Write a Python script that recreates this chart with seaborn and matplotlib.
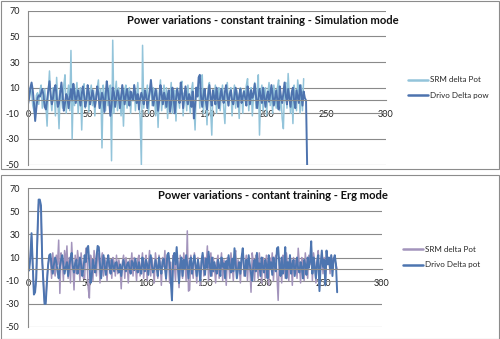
import numpy as np
import pandas as pd
import matplotlib
matplotlib.use("Agg")
import matplotlib.pyplot as plt
from matplotlib.patches import Rectangle
import seaborn as sns

# ---------------- data ----------------
sim_titles = "Power variations - constant training - Simulation mode"
erg_titles = "Power variations - contant training - Erg mode"

sim_labels = ["SRM delta Pot", "Drivo Delta pow"]
erg_labels = ["SRM delta Pot", "Drivo Delta pot"]

x_ticks = [0, 50, 100, 150, 200, 250, 300]
y_ticks = [-50, -30, -10, 10, 30, 50, 70]

sim_srm = [
    -2, 3, 10, 6, -4, -8, -12, 4, 6, -3, 8, 12, -6, 2, 9, -4, -20, 6, 23, 2,
    -8, 10, 4, -12, 18, 0, -22, 8, 2, -6, 12, 20, -10, 4, 12, -8, 39, -30, 13, -4,
    6, 14, -10, 2, 10, -23, 8, 13, -6, 3, 10, -9, 6, 12, -4, 8, -12, 4, 10, 16,
    -6, 9, -37, 12, 4, -8, 14, -4, 8, 12, -47, 47, -10, 6, 15, -8, 10, 2, -12, 6,
    -20, 8, 12, -6, 4, 10, -10, 6, 2, 12, -8, 4, 14, -2, -14, -50, 43, -6, 8, 2,
    12, -10, 6, 14, -4, 10, 2, -12, 8, -21, 6, 16, -8, 4, 12, -6, 10, -14, 6, 2,
    14, -10, 4, 8, -16, 10, 2, -6, 12, 15, -12, 6, 4, -8, 12, 0, -10, 8, 14, -4,
    -23, 10, 4, 12, -6, 16, 20, -10, 8, 2, -19, 10, 14, -6, -27, 8, 2, 12, -10, 6,
    10, -8, 4, 12, -6, -18, 8, 14, -4, 6, 10, -12, 4, 12, -6, 8, 2, -14, 10, 6,
    -10, 8, 4, 12, 17, -8, 6, 10, -12, 4, 14, -6, 8, 20, -27, 6, 12, -8, 4, 10,
    -12, 6, 14, -4, 8, -10, 12, 4, -6, 10, 16, -8, 4, -14, -22, 10, 14, -6, 21, 4,
    -10, 8, -18, 12, 4, -8, 16, 6, -10, 12, -8, 17,
]

sim_drivo = [
    -3, 2, 10, 14, 8, -2, -16, -6, 2, 4, 3, 6, 9, 4, -5, -7, 0, 8, 15, 5,
    -3, 2, 9, 12, 3, -5, -2, 6, 14, 4, -8, -2, 5, 3, -6, 2, 9, 0, 13, 6,
    -2, 3, 8, 2, -4, 5, 11, 4, -5, 0, 12, 6, -3, 2, 8, 3, -5, 1, 11, 5,
    -6, 0, 6, 2, -9, 3, 15, 8, 0, -12, -4, 10, 6, -5, 2, 8, 4, -6, 3, 12,
    5, -3, 4, 9, 2, -4, 7, 3, 0, 12, 5, -2, 5, -7, 2, 6, 2, -3, 8, 4,
    -6, 1, 7, 16, 6, -4, 3, 9, 2, -8, 0, 12, 5, -3, 6, 2, -5, 4, 8, -9,
    -2, 10, 3, -10, 1, 9, 4, -2, 14, 6, -6, 3, 11, 2, -3, 5, 2, -5, 7, -14,
    -4, 10, 3, 18, 20, 3, -5, 4, 9, 0, -7, 5, 12, 2, -4, 8, 3, -3, 10, 2,
    -6, 3, 9, 2, -2, 7, 12, 3, -4, 5, 8, 0, -3, 3, 10, 4, -5, 4, 9, -2,
    3, 7, 2, -4, 11, 5, -3, 8, 2, 5, 13, 4, -6, 1, 9, 3, -2, 10, 2, -5,
    3, 7, -1, 5, 12, 4, -4, 2, 8, 0, -7, 11, 3, -2, 6, 14, 4, -3, 9, 2,
    -5, 6, 10, 0, -6, 8, 3, -2, 12, 5, -4, 7, 2, 0, -55,
]

erg_srm = [
    0, 2, 12, 28, 2, -20, -18, -6, 26, 56, 57, 50, 6, -8, -28, -28, -10, 4, 10, 8,
    -8, 14, 0, -6, 12, 4, 25, -21, 14, 8, -10, 16, 4, 20, -8, 10, -12, 23, 2, -18,
    12, -4, 16, 6, -10, 14, 2, -8, -8, 18, 10, -16, -25, 12, 6, -10, 16, 4, -6, 14,
    10, -12, 8, 14, -6, 10, 4, -10, 12, 2, 8, -8, 10, 6, -6, 12, -4, 8, 2, -17,
    6, 12, -8, 10, 4, -12, 8, 2, 14, -6, 10, 4, -10, 8, 12, -6, 4, 14, -8, 6,
    12, -10, 4, 16, -6, 10, 2, -12, 14, 4, -8, 12, 6, -14, 10, 2, 16, -10, 8, 12,
    -12, 6, -20, 12, 4, -10, 14, 6, -16, 12, 2, -8, 14, 4, -10, 33, -19, -18, 12, 2,
    -8, 14, 4, -12, 10, 2, -14, 8, 12, -6, 10, 4, 20, -10, 8, 14, -6, 10, 2, -12,
    6, 12, -8, 4, 14, -10, 8, 2, -14, 10, 6, -8, 14, 4, -10, 12, 16, -6, 8, 2,
    -12, 10, 14, -6, 4, 12, -10, 8, 2, -20, 14, 6, -10, 12, 4, -8, 14, 2, -12, 10,
    6, -8, 12, 4, -14, 10, 2, 14, -10, 8, 12, -6, -27, 10, 4, -12, 12, 6, -8, 14,
    4, -10, 12, 6, -14, 10, 2, 8, -8, 18, 4, -12, 10, 6, -10, 14, 2, -8, 12, 4,
    20, -10, 14, 6, -12, 8, 16, -16, 4, 14, -4, 10, -10, 12, 6, 10, -4, 12, 2, 10,
    8, 4, 0,
]

erg_drivo = [
    -2, -1, 10, 31, 5, -22, -20, -8, 30, 60, 60, 55, 10, -12, -30, -30, -12, 3, 12, 13,
    3, -4, 4, 10, 6, -2, -8, 2, 8, 12, 4, -4, 2, 6, -6, 3, 9, 14, 2, -3,
    5, 8, -4, 2, 10, 4, -6, 0, 12, 6, 18, 20, 4, -12, -6, 8, 2, -3, 10, 20,
    19, 4, -8, 4, 12, 2, -5, 6, 12, 2, -4, 8, 3, -2, 5, 6, 0, -3, 4, -6,
    3, 8, 2, -2, 4, 6, 0, -4, 7, 5, -1, 9, 2, -3, 6, 0, -4, 10, 3, -2,
    8, 4, -5, 6, 12, 3, -3, 0, 8, 2, -6, 10, 2, -4, 6, 9, 1, -8, 12, 14,
    5, -10, -27, 8, 14, 4, 19, 2, -12, 4, 10, -6, 8, 0, 12, 3, -8, 6, 10, -4,
    5, 12, 3, -6, 8, 0, -10, 6, 14, 2, -5, 9, 1, 15, 4, -6, 10, -2, 6, 0,
    -4, 8, 3, -6, 10, 2, 5, -8, 7, 0, 12, 3, -3, 9, -2, 18, 4, -8, 0, 6,
    -4, 10, 18, 2, -6, 8, 0, 12, 4, -4, -10, 4, 8, -2, 14, 0, 5, -6, 10, 2,
    -3, 8, 4, -8, 12, 0, 6, -5, 10, 3, -2, 18, 19, 4, -6, 10, -4, 2, 19, -8,
    6, 0, 12, -4, 4, 8, -6, 2, 10, 0, -3, 6, 2, -8, 8, 4, -5, 10, 1, 6,
    24, -4, 10, 2, -8, 6, 12, -19, 3, 16, 2, 8, -14, 16, 4, 10, 0, 12, -6, 8,
    12, 4, -20,
]

# ---------------- style ----------------
sns.set_theme(style="white")
plt.rcParams["font.family"] = ["Lato", "DejaVu Sans"]

C_LIGHT = "#93C4DA"
C_DARK = "#4D73AE"
C_LAV = "#A394BC"
C_DARK2 = "#4D75B0"
GRID = "#8A8A8A"

W, H = 500, 339
fig = plt.figure(figsize=(W / 100, H / 100), dpi=100)
fig.patch.set_facecolor("white")

# chart frames
for (y0, y1) in [(0.5, 168.5), (174.5, 338.5)]:
    fig.add_artist(Rectangle((0.5 / W, 1 - y1 / H), 498.5 / W, (y1 - y0) / H,
                             transform=fig.transFigure, fill=False,
                             ec="#8C8C8C", lw=0.8))


def style_axes(ax):
    ax.set_xlim(0, 300)
    ax.set_ylim(-50, 70)
    ax.set_xticks(x_ticks)
    ax.set_yticks(y_ticks)
    ax.set_xticklabels([str(v) for v in x_ticks])
    ax.set_yticklabels([str(v) for v in y_ticks])
    ax.set_axisbelow(True)
    ax.yaxis.grid(True, color=GRID, lw=0.8)
    ax.xaxis.grid(False)
    for s in ["top", "right"]:
        ax.spines[s].set_visible(False)
    ax.spines["left"].set_color(GRID)
    ax.spines["left"].set_linewidth(0.8)
    ax.spines["bottom"].set_position(("data", 0))
    ax.spines["bottom"].set_color(GRID)
    ax.spines["bottom"].set_linewidth(0.8)
    ax.tick_params(axis="y", direction="out", length=3, width=0.8,
                   color=GRID, labelsize=6.5, pad=3, labelcolor="#222222")
    ax.tick_params(axis="x", direction="in", length=3, width=0.8,
                   color=GRID, labelsize=6.5, pad=7, labelcolor="#222222")
    ax.set_xlabel("")
    ax.set_ylabel("")
    ax.set_facecolor("white")


# ---------------- top chart ----------------
ax1 = fig.add_axes([28 / W, 1 - 164.6 / H, 358 / W, 153.9 / H])
df1a = pd.DataFrame({"x": np.arange(len(sim_srm)), "y": sim_srm})
df1b = pd.DataFrame({"x": np.arange(len(sim_drivo)), "y": sim_drivo})
sns.lineplot(data=df1a, x="x", y="y", ax=ax1, color=C_LIGHT, linewidth=1.1,
             label=sim_labels[0])
sns.lineplot(data=df1b, x="x", y="y", ax=ax1, color=C_DARK, linewidth=1.4,
             label=sim_labels[1])
style_axes(ax1)
h, l = ax1.get_legend_handles_labels()
ax1.legend(h, l, loc="center left", bbox_to_anchor=(408 / W, 1 - 87.5 / H),
           bbox_transform=fig.transFigure, frameon=False, fontsize=5.8,
           handlelength=2.5, handletextpad=0.2, labelspacing=1.0,
           borderpad=0, borderaxespad=0)
for ln in ax1.get_legend().get_lines():
    ln.set_linewidth(1.8)
fig.text(263 / W, 1 - 20.5 / H, sim_titles, ha="center", va="center",
         fontsize=8.1, fontweight="bold", color="#111111")

# ---------------- bottom chart ----------------
ax2 = fig.add_axes([28 / W, 1 - 327 / H, 354 / W, 139 / H])
df2a = pd.DataFrame({"x": np.arange(len(erg_srm)), "y": erg_srm})
df2b = pd.DataFrame({"x": np.arange(len(erg_drivo)), "y": erg_drivo})
sns.lineplot(data=df2a, x="x", y="y", ax=ax2, color=C_LAV, linewidth=1.1,
             label=erg_labels[0])
sns.lineplot(data=df2b, x="x", y="y", ax=ax2, color=C_DARK2, linewidth=1.4,
             label=erg_labels[1])
style_axes(ax2)
h, l = ax2.get_legend_handles_labels()
ax2.legend(h, l, loc="center left", bbox_to_anchor=(403 / W, 1 - 257 / H),
           bbox_transform=fig.transFigure, frameon=False, fontsize=5.8,
           handlelength=2.5, handletextpad=0.2, labelspacing=1.1,
           borderpad=0, borderaxespad=0)
for ln in ax2.get_legend().get_lines():
    ln.set_linewidth(1.8)
fig.text(273 / W, 1 - 195.7 / H, erg_titles, ha="center", va="center",
         fontsize=8.1, fontweight="bold", color="#111111")

fig.savefig("out.png", dpi=100, facecolor="white")
